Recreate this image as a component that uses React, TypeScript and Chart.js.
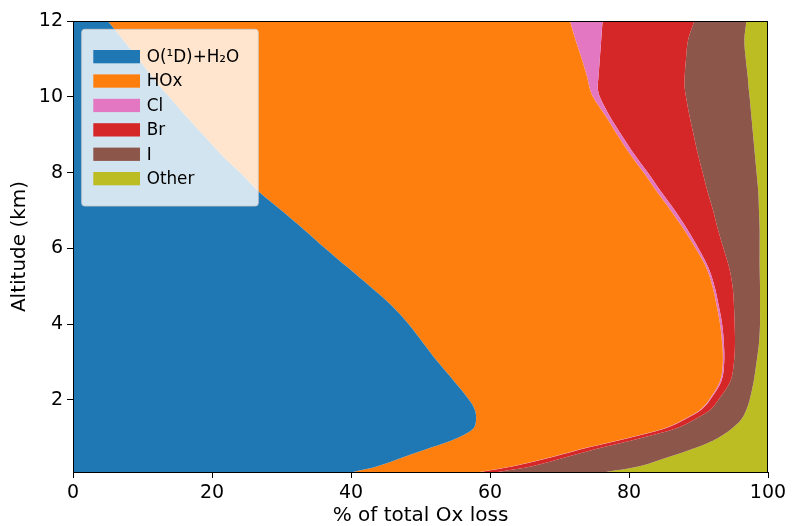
import React, { useEffect, useRef } from 'react';
import { Chart, registerables } from 'chart.js';

Chart.register(...registerables);

// Altitude levels (km) – the index axis
const ALTITUDE_KM = [0.1, 0.25, 0.5, 0.75, 1.0, 1.25, 1.5, 1.75, 2, 2.5, 3, 3.5, 4, 4.5, 5, 5.5, 6, 6.5, 7, 7.5, 8, 8.5, 9, 9.5, 10, 10.25, 10.5, 11, 11.5, 12];

// Contribution of each process to total Ox loss (%), per altitude
const O1D_H2O = [40.3, 43.8, 47.7, 51.6, 55.3, 57.6, 58.0, 57.8, 57.0, 54.8, 52.5, 50.4, 48.3, 45.8, 42.7, 39.5, 36.3, 33.2, 30.0, 26.7, 24.0, 21.2, 18.7, 16.2, 13.8, 12.6, 11.5, 9.4, 7.2, 5.0];
const HOX = [18.2, 19.4, 21.3, 22.5, 24.5, 27.4, 30.0, 32.5, 34.5, 38.3, 41.0, 43.0, 44.8, 46.8, 49.3, 51.6, 53.3, 54.7, 56.0, 57.3, 58.1, 58.9, 59.6, 60.4, 61.0, 61.7, 62.5, 63.8, 65.1, 66.5];
const CL = [0.15, 0.15, 0.15, 0.15, 0.15, 0.15, 0.15, 0.15, 0.15, 0.2, 0.2, 0.25, 0.3, 0.3, 0.3, 0.3, 0.4, 0.5, 0.6, 0.6, 0.6, 0.6, 0.6, 0.6, 1.0, 1.2, 1.6, 2.6, 3.7, 4.7];
const BR = [2.5, 2.7, 2.0, 2.0, 1.8, 1.6, 1.4, 1.3, 1.2, 1.3, 1.4, 1.6, 1.8, 2.2, 2.6, 3.0, 3.6, 4.4, 5.5, 6.7, 7.9, 9.2, 10.4, 11.5, 12.4, 12.5, 12.4, 12.4, 12.5, 13.2];
const IODINE = [15.55, 15.45, 14.65, 13.55, 11.05, 8.05, 6.65, 5.15, 4.5, 3.35, 3.25, 3.45, 3.65, 3.75, 3.95, 4.4, 5.2, 6.0, 6.6, 7.3, 7.75, 8.2, 8.55, 8.9, 9.15, 9.2, 9.1, 8.6, 8.1, 7.5];
const OTHER = [23.3, 18.5, 14.2, 10.2, 7.2, 5.2, 3.8, 3.1, 2.6, 2.0, 1.6, 1.3, 1.2, 1.2, 1.2, 1.2, 1.2, 1.2, 1.3, 1.4, 1.65, 1.9, 2.15, 2.4, 2.65, 2.8, 2.9, 3.2, 3.4, 3.1];

const SERIES_LABELS = ['O(\u00B9D)+H\u2082O', 'HOx', 'Cl', 'Br', 'I', 'Other'];
const SERIES_VALUES = [O1D_H2O, HOX, CL, BR, IODINE, OTHER];
const SERIES_COLORS = ['#1f77b4', '#ff7f0e', '#e377c2', '#d62728', '#8c564b', '#bcbd22'];

const X_TICKS = [0, 20, 40, 60, 80, 100];
const Y_TICKS = [2, 4, 6, 8, 10, 12];
const X_TITLE = '% of total Ox loss';
const Y_TITLE = 'Altitude (km)';

const FONT = '"DejaVu Sans", Verdana, sans-serif';

const framePlugin = {
  id: 'mplFrame',
  afterDatasetsDraw(chart: any) {
    const { ctx, chartArea: a } = chart;
    ctx.save();
    ctx.strokeStyle = '#000';
    ctx.lineWidth = 1;
    ctx.strokeRect(a.left + 0.5, a.top + 0.5, a.right - a.left - 1, a.bottom - a.top);
    ctx.restore();
  },
};

const legendPlugin = {
  id: 'mplLegend',
  afterDraw(chart: any) {
    const { ctx, chartArea: a } = chart;
    const x0 = a.left + 8.7;
    const y0 = a.top + 8.3;
    const w = 176.6;
    const h = 176.7;
    const r = 3;
    ctx.save();
    ctx.beginPath();
    ctx.moveTo(x0 + r, y0);
    ctx.lineTo(x0 + w - r, y0);
    ctx.arcTo(x0 + w, y0, x0 + w, y0 + r, r);
    ctx.lineTo(x0 + w, y0 + h - r);
    ctx.arcTo(x0 + w, y0 + h, x0 + w - r, y0 + h, r);
    ctx.lineTo(x0 + r, y0 + h);
    ctx.arcTo(x0, y0 + h, x0, y0 + h - r, r);
    ctx.lineTo(x0, y0 + r);
    ctx.arcTo(x0, y0, x0 + r, y0, r);
    ctx.closePath();
    ctx.fillStyle = 'rgba(255,255,255,0.8)';
    ctx.fill();
    ctx.strokeStyle = 'rgba(204,204,204,0.8)';
    ctx.lineWidth = 1;
    ctx.stroke();
    ctx.font = `16.8px ${FONT}`;
    ctx.textBaseline = 'middle';
    ctx.textAlign = 'left';
    chart.data.datasets.forEach((ds: any, i: number) => {
      const cy = y0 + 27.4 + i * 24.4;
      ctx.fillStyle = ds.backgroundColor;
      ctx.fillRect(x0 + 11.6, cy - 6.7, 46.7, 13.3);
      ctx.fillStyle = '#000';
      ctx.fillText(ds.label, x0 + 65, cy + 1);
    });
    ctx.restore();
  },
};

export default function App() {
  const canvasRef = useRef<HTMLCanvasElement | null>(null);

  useEffect(() => {
    document.body.style.margin = '0';
    const canvas = canvasRef.current;
    if (!canvas) return;

    // cumulative stacking of the series along the x (percentage) axis
    const running = ALTITUDE_KM.map(() => 0);
    const datasets = SERIES_VALUES.map((vals, si) => {
      const pts = ALTITUDE_KM.map((alt, i) => {
        running[i] += vals[i];
        return { x: running[i], y: alt };
      });
      return {
        label: SERIES_LABELS[si],
        data: pts,
        backgroundColor: SERIES_COLORS[si],
        borderColor: 'rgba(0,0,0,0)',
        borderWidth: 0,
        pointRadius: 0,
        fill: si === 0 ? 'origin' : '-1',
        tension: 0.35,
      };
    });

    const chart = new Chart(canvas, {
      type: 'line',
      data: { datasets },
      options: {
        responsive: false,
        animation: false,
        indexAxis: 'y',
        layout: { padding: { top: 21, right: 24, left: 0, bottom: 0 } },
        plugins: {
          legend: { display: false },
          tooltip: { enabled: false },
        },
        scales: {
          x: {
            type: 'linear',
            position: 'bottom',
            min: 0,
            max: 100,
            afterBuildTicks: (s: any) => {
              s.ticks = X_TICKS.map((v) => ({ value: v }));
            },
            afterFit: (s: any) => {
              s.height = 54;
            },
            ticks: {
              color: '#000',
              font: { family: FONT, size: 19 },
              padding: 4,
              maxRotation: 0,
              autoSkip: false,
            },
            grid: {
              drawOnChartArea: false,
              drawTicks: true,
              tickLength: 6,
              color: '#000',
              tickColor: '#000',
              lineWidth: 1,
            },
            border: { display: false },
            title: {
              display: true,
              text: X_TITLE,
              color: '#000',
              font: { family: FONT, size: 20, lineHeight: 1.0 },
              padding: { top: 0, bottom: 0 },
            },
          },
          y: {
            type: 'linear',
            position: 'left',
            min: 0.1,
            max: 12,
            afterBuildTicks: (s: any) => {
              s.ticks = Y_TICKS.map((v) => ({ value: v }));
            },
            afterFit: (s: any) => {
              s.width = 73;
            },
            ticks: {
              color: '#000',
              font: { family: FONT, size: 19 },
              padding: 4,
              autoSkip: false,
            },
            grid: {
              drawOnChartArea: false,
              drawTicks: true,
              tickLength: 6,
              color: '#000',
              tickColor: '#000',
              lineWidth: 1,
            },
            border: { display: false },
            title: {
              display: true,
              text: Y_TITLE,
              color: '#000',
              font: { family: FONT, size: 20, lineHeight: 1.2 },
              padding: { top: 8, bottom: 0 },
            },
          },
        },
      },
      plugins: [framePlugin, legendPlugin],
    } as any);

    return () => chart.destroy();
  }, []);

  return (
    <div style={{ width: 792, height: 526 }}>
      <canvas ref={canvasRef} width={792} height={526} style={{ display: 'block' }} />
    </div>
  );
}
